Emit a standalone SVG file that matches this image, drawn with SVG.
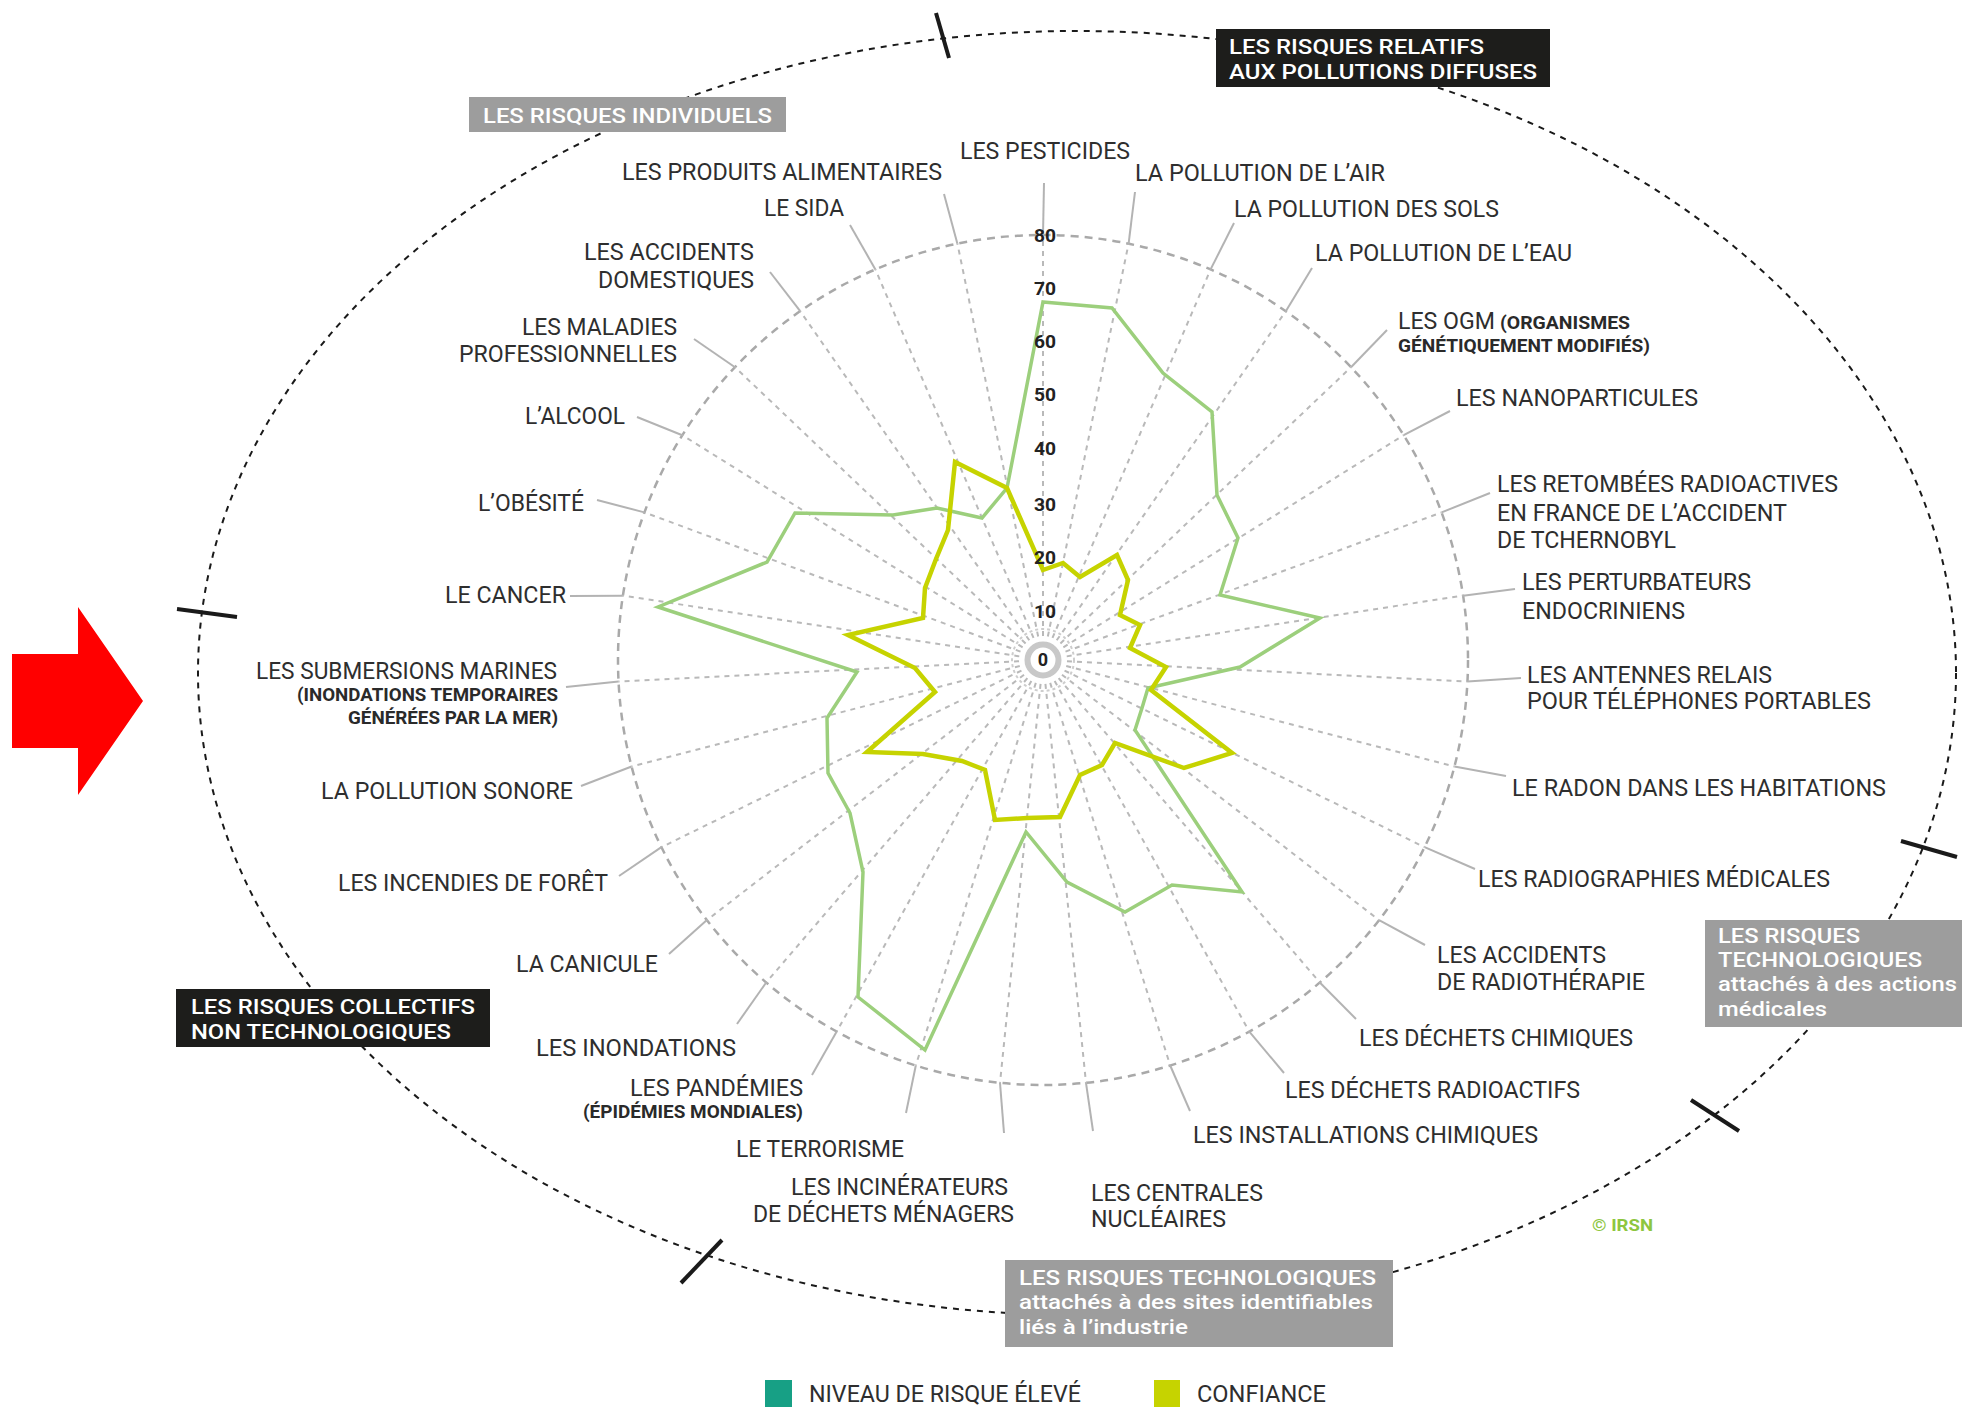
<svg xmlns="http://www.w3.org/2000/svg" width="1962" height="1407" viewBox="0 0 1962 1407">
<style>
text { font-family: Roboto, "Liberation Sans", Arial, sans-serif; }
.lbl { font-size: 24px; fill: #2e2e2e; }
.sm { font-size: 18px; font-weight: 700; fill: #2a2a2a; }
.bx { font-size: 21px; font-weight: 500; fill: #ffffff; }
.num { font-size: 18px; font-weight: 700; fill: #222; text-anchor: middle; }
.ell { fill: none; stroke: #1a1a1a; stroke-width: 2; stroke-dasharray: 6 6; }
.tick { stroke: #1a1a1a; stroke-width: 4; }
.rad { stroke: #b9b9b9; stroke-width: 2; stroke-dasharray: 5 5; }
.ring { fill: none; stroke: #a9a9a9; stroke-width: 2.5; stroke-dasharray: 8 6; }
.lead { stroke: #b3b3b3; stroke-width: 2; }
.gbox { fill: #9d9d9d; }
.kbox { fill: #1d1d1b; }
</style>
<rect width="1962" height="1407" fill="#ffffff"/>

<!-- red arrow -->
<polygon points="12,654 78,654 78,607 143,701 78,795 78,748 12,748" fill="#ff0000"/>

<!-- outer category ellipse -->
<g id="category-ellipse">
<ellipse class="ell" cx="1077" cy="673" rx="879" ry="642"/>
<line class="tick" x1="936" y1="13" x2="949" y2="58"/>
<line class="tick" x1="177" y1="609" x2="237" y2="617"/>
<line class="tick" x1="722" y1="1240" x2="681" y2="1283"/>
<line class="tick" x1="1691" y1="1100" x2="1739" y2="1131"/>
<line class="tick" x1="1901" y1="841" x2="1957" y2="857"/>
</g>

<!-- category boxes -->
<g id="cat-individuels">
<rect class="gbox" x="469" y="97" width="317" height="35"/>
<text class="bx" x="483" y="123" font-size="23" textLength="289" lengthAdjust="spacingAndGlyphs">LES RISQUES INDIVIDUELS</text>
</g>
<g id="cat-pollutions">
<rect class="kbox" x="1216" y="29" width="334" height="58"/>
<text class="bx" x="1229" y="54" textLength="255" lengthAdjust="spacingAndGlyphs">LES RISQUES RELATIFS</text>
<text class="bx" x="1229" y="79" textLength="308" lengthAdjust="spacingAndGlyphs">AUX POLLUTIONS DIFFUSES</text>
</g>
<g id="cat-collectifs">
<rect class="kbox" x="176" y="989" width="314" height="58"/>
<text class="bx" x="191" y="1014" textLength="284" lengthAdjust="spacingAndGlyphs">LES RISQUES COLLECTIFS</text>
<text class="bx" x="191" y="1039" textLength="260" lengthAdjust="spacingAndGlyphs">NON TECHNOLOGIQUES</text>
</g>
<g id="cat-medicales">
<rect class="gbox" x="1705" y="920" width="257" height="107"/>
<text class="bx" x="1718" y="943" textLength="142" lengthAdjust="spacingAndGlyphs">LES RISQUES</text>
<text class="bx" x="1718" y="967" textLength="204" lengthAdjust="spacingAndGlyphs">TECHNOLOGIQUES</text>
<text class="bx" x="1718" y="991" textLength="239" lengthAdjust="spacingAndGlyphs">attachés à des actions</text>
<text class="bx" x="1718" y="1016" textLength="109" lengthAdjust="spacingAndGlyphs">médicales</text>
</g>
<g id="cat-industrie">
<rect class="gbox" x="1005" y="1260" width="388" height="87"/>
<text class="bx" x="1019" y="1285" textLength="357" lengthAdjust="spacingAndGlyphs">LES RISQUES TECHNOLOGIQUES</text>
<text class="bx" x="1019" y="1309" textLength="354" lengthAdjust="spacingAndGlyphs">attachés à des sites identifiables</text>
<text class="bx" x="1019" y="1334" textLength="169" lengthAdjust="spacingAndGlyphs">liés à l’industrie</text>
</g>

<!-- radar grid -->
<g id="grid">
<circle class="ring" cx="1043" cy="660" r="425"/>
<circle cx="1043" cy="660" r="15.5" fill="none" stroke="#c8c8c8" stroke-width="6"/>
<circle cx="1043" cy="660" r="31" fill="none" stroke="#cdcdcd" stroke-width="2" stroke-dasharray="3 3"/>
<g transform="translate(1043,660)">
<line class="rad" y1="-24" y2="-425" stroke="#a5a5a5"/>
<line class="rad" y1="-24" y2="-425" transform="rotate(11.613)"/>
<line class="rad" y1="-24" y2="-425" transform="rotate(23.226)"/>
<line class="rad" y1="-24" y2="-425" transform="rotate(34.839)"/>
<line class="rad" y1="-24" y2="-425" transform="rotate(46.452)"/>
<line class="rad" y1="-24" y2="-425" transform="rotate(58.065)"/>
<line class="rad" y1="-24" y2="-425" transform="rotate(69.677)"/>
<line class="rad" y1="-24" y2="-425" transform="rotate(81.290)"/>
<line class="rad" y1="-24" y2="-425" transform="rotate(92.903)"/>
<line class="rad" y1="-24" y2="-425" transform="rotate(104.516)"/>
<line class="rad" y1="-24" y2="-425" transform="rotate(116.129)"/>
<line class="rad" y1="-24" y2="-425" transform="rotate(127.742)"/>
<line class="rad" y1="-24" y2="-425" transform="rotate(139.355)"/>
<line class="rad" y1="-24" y2="-425" transform="rotate(150.968)"/>
<line class="rad" y1="-24" y2="-425" transform="rotate(162.581)"/>
<line class="rad" y1="-24" y2="-425" transform="rotate(174.194)"/>
<line class="rad" y1="-24" y2="-425" transform="rotate(185.806)"/>
<line class="rad" y1="-24" y2="-425" transform="rotate(197.419)"/>
<line class="rad" y1="-24" y2="-425" transform="rotate(209.032)"/>
<line class="rad" y1="-24" y2="-425" transform="rotate(220.645)"/>
<line class="rad" y1="-24" y2="-425" transform="rotate(232.258)"/>
<line class="rad" y1="-24" y2="-425" transform="rotate(243.871)"/>
<line class="rad" y1="-24" y2="-425" transform="rotate(255.484)"/>
<line class="rad" y1="-24" y2="-425" transform="rotate(267.097)"/>
<line class="rad" y1="-24" y2="-425" transform="rotate(278.710)"/>
<line class="rad" y1="-24" y2="-425" transform="rotate(290.323)"/>
<line class="rad" y1="-24" y2="-425" transform="rotate(301.935)"/>
<line class="rad" y1="-24" y2="-425" transform="rotate(313.548)"/>
<line class="rad" y1="-24" y2="-425" transform="rotate(325.161)"/>
<line class="rad" y1="-24" y2="-425" transform="rotate(336.774)"/>
<line class="rad" y1="-24" y2="-425" transform="rotate(348.387)"/>
</g>
</g>

<!-- connectors: leader lines from ring to labels -->
<g id="connectors">
<line class="lead" x1="1043" y1="235" x2="1044" y2="183"/>
<line class="lead" x1="1128.6" y1="243.7" x2="1135" y2="192"/>
<line class="lead" x1="1210.6" y1="269.4" x2="1234" y2="223"/>
<line class="lead" x1="1285.8" y1="311.2" x2="1312" y2="268"/>
<line class="lead" x1="1351" y1="367.2" x2="1387" y2="330"/>
<line class="lead" x1="1403.7" y1="435.2" x2="1450" y2="411"/>
<line class="lead" x1="1441.6" y1="512.4" x2="1490" y2="493"/>
<line class="lead" x1="1463.1" y1="595.7" x2="1515" y2="589"/>
<line class="lead" x1="1467.4" y1="681.5" x2="1521" y2="678"/>
<line class="lead" x1="1454.4" y1="766.5" x2="1506" y2="776"/>
<line class="lead" x1="1424.6" y1="847.2" x2="1475" y2="869"/>
<line class="lead" x1="1379.1" y1="920.1" x2="1425" y2="945"/>
<line class="lead" x1="1319.8" y1="982.5" x2="1356" y2="1019"/>
<line class="lead" x1="1249.3" y1="1031.6" x2="1284" y2="1073"/>
<line class="lead" x1="1170.2" y1="1065.5" x2="1190" y2="1111"/>
<line class="lead" x1="1086" y1="1082.8" x2="1093" y2="1131"/>
<line class="lead" x1="1000" y1="1082.8" x2="1004" y2="1133"/>
<line class="lead" x1="915.8" y1="1065.5" x2="906" y2="1113"/>
<line class="lead" x1="836.7" y1="1031.6" x2="812" y2="1075"/>
<line class="lead" x1="766.2" y1="982.5" x2="737" y2="1024"/>
<line class="lead" x1="706.9" y1="920.1" x2="669" y2="954"/>
<line class="lead" x1="661.4" y1="847.2" x2="619" y2="876"/>
<line class="lead" x1="631.6" y1="766.5" x2="581" y2="786"/>
<line class="lead" x1="618.6" y1="681.5" x2="566" y2="687"/>
<line class="lead" x1="622.9" y1="595.7" x2="570" y2="596"/>
<line class="lead" x1="644.4" y1="512.4" x2="597" y2="500"/>
<line class="lead" x1="682.3" y1="435.2" x2="637" y2="417"/>
<line class="lead" x1="735" y1="367.2" x2="694" y2="339"/>
<line class="lead" x1="800.2" y1="311.2" x2="770" y2="272"/>
<line class="lead" x1="875.4" y1="269.4" x2="850" y2="225"/>
<line class="lead" x1="957.4" y1="243.7" x2="944" y2="194"/>
</g>

<!-- data series -->
<g id="series-risque">
<polygon points="1043,302 1112,308 1163,373 1212,412 1217,495 1238,538 1220,595 1320,618 1240,667 1148,688 1142,708 1135,730 1242,892 1172,885 1125,912 1067,882 1026,832 925,1050 858,997 863,872 850,813 828,773 827,718 857,672 658,607 767,562 795,513 893,515 937,508 982,518 1007,488" fill="none" stroke="#9ccf7c" stroke-width="3.5" stroke-linejoin="miter"/>
</g>
<g id="series-confiance">
<polygon points="1043,570 1063,563 1080,577 1117,555 1128,580 1120,615 1140,625 1130,648 1166,667 1151,690 1232,753 1184,768 1115,743 1102,765 1080,775 1060,817 1027,818 995,820 985,770 962,761 923,754 867,752 935,692 915,668 848,635 923,618 925,588 936,559 948,530 955,462 1007,488" fill="none" stroke="#c6d300" stroke-width="4.5" stroke-linejoin="miter"/>
</g>

<!-- scale numbers -->
<g id="scale">
<text class="num" x="1045" y="242" textLength="22" lengthAdjust="spacingAndGlyphs">80</text>
<text class="num" x="1045" y="295" textLength="22" lengthAdjust="spacingAndGlyphs">70</text>
<text class="num" x="1045" y="348" textLength="22" lengthAdjust="spacingAndGlyphs">60</text>
<text class="num" x="1045" y="401" textLength="22" lengthAdjust="spacingAndGlyphs">50</text>
<text class="num" x="1045" y="455" textLength="22" lengthAdjust="spacingAndGlyphs">40</text>
<text class="num" x="1045" y="511" textLength="22" lengthAdjust="spacingAndGlyphs">30</text>
<text class="num" x="1045" y="564" textLength="22" lengthAdjust="spacingAndGlyphs">20</text>
<text class="num" x="1045" y="618" textLength="22" lengthAdjust="spacingAndGlyphs">10</text>
<text class="num" x="1043" y="666">0</text>
</g>

<!-- axis labels -->
<g id="lbl-pesticides"><text class="lbl" x="960" y="159" textLength="170" lengthAdjust="spacingAndGlyphs">LES PESTICIDES</text></g>
<g id="lbl-air"><text class="lbl" x="1135" y="181" textLength="250" lengthAdjust="spacingAndGlyphs">LA POLLUTION DE L’AIR</text></g>
<g id="lbl-sols"><text class="lbl" x="1234" y="217" textLength="265" lengthAdjust="spacingAndGlyphs">LA POLLUTION DES SOLS</text></g>
<g id="lbl-eau"><text class="lbl" x="1315" y="261" textLength="257" lengthAdjust="spacingAndGlyphs">LA POLLUTION DE L’EAU</text></g>
<g id="lbl-ogm">
<text class="lbl" x="1398" y="329" textLength="97" lengthAdjust="spacingAndGlyphs">LES OGM</text>
<text class="sm" x="1500" y="329" textLength="130" lengthAdjust="spacingAndGlyphs">(ORGANISMES</text>
<text class="sm" x="1398" y="352" textLength="252" lengthAdjust="spacingAndGlyphs">GÉNÉTIQUEMENT MODIFIÉS)</text>
</g>
<g id="lbl-nano"><text class="lbl" x="1456" y="406" textLength="242" lengthAdjust="spacingAndGlyphs">LES NANOPARTICULES</text></g>
<g id="lbl-retombees">
<text class="lbl" x="1497" y="492" textLength="341" lengthAdjust="spacingAndGlyphs">LES RETOMBÉES RADIOACTIVES</text>
<text class="lbl" x="1497" y="521" textLength="290" lengthAdjust="spacingAndGlyphs">EN FRANCE DE L’ACCIDENT</text>
<text class="lbl" x="1497" y="548" textLength="179" lengthAdjust="spacingAndGlyphs">DE TCHERNOBYL</text>
</g>
<g id="lbl-perturbateurs">
<text class="lbl" x="1522" y="590" textLength="229" lengthAdjust="spacingAndGlyphs">LES PERTURBATEURS</text>
<text class="lbl" x="1522" y="619" textLength="163" lengthAdjust="spacingAndGlyphs">ENDOCRINIENS</text>
</g>
<g id="lbl-antennes">
<text class="lbl" x="1527" y="683" textLength="245" lengthAdjust="spacingAndGlyphs">LES ANTENNES RELAIS</text>
<text class="lbl" x="1527" y="709" textLength="344" lengthAdjust="spacingAndGlyphs">POUR TÉLÉPHONES PORTABLES</text>
</g>
<g id="lbl-radon"><text class="lbl" x="1512" y="796" textLength="374" lengthAdjust="spacingAndGlyphs">LE RADON DANS LES HABITATIONS</text></g>
<g id="lbl-radiographies"><text class="lbl" x="1478" y="887" textLength="352" lengthAdjust="spacingAndGlyphs">LES RADIOGRAPHIES MÉDICALES</text></g>
<g id="lbl-radiotherapie">
<text class="lbl" x="1437" y="963" textLength="169" lengthAdjust="spacingAndGlyphs">LES ACCIDENTS</text>
<text class="lbl" x="1437" y="990" textLength="208" lengthAdjust="spacingAndGlyphs">DE RADIOTHÉRAPIE</text>
</g>
<g id="lbl-dechets-chimiques"><text class="lbl" x="1359" y="1046" textLength="274" lengthAdjust="spacingAndGlyphs">LES DÉCHETS CHIMIQUES</text></g>
<g id="lbl-dechets-radioactifs"><text class="lbl" x="1285" y="1098" textLength="295" lengthAdjust="spacingAndGlyphs">LES DÉCHETS RADIOACTIFS</text></g>
<g id="lbl-installations"><text class="lbl" x="1193" y="1143" textLength="345" lengthAdjust="spacingAndGlyphs">LES INSTALLATIONS CHIMIQUES</text></g>
<g id="lbl-centrales">
<text class="lbl" x="1091" y="1201" textLength="172" lengthAdjust="spacingAndGlyphs">LES CENTRALES</text>
<text class="lbl" x="1091" y="1227" textLength="135" lengthAdjust="spacingAndGlyphs">NUCLÉAIRES</text>
</g>
<g id="lbl-incinerateurs">
<text class="lbl" x="791" y="1195" textLength="217" lengthAdjust="spacingAndGlyphs">LES INCINÉRATEURS</text>
<text class="lbl" x="753" y="1222" textLength="261" lengthAdjust="spacingAndGlyphs">DE DÉCHETS MÉNAGERS</text>
</g>
<g id="lbl-terrorisme"><text class="lbl" x="736" y="1157" textLength="168" lengthAdjust="spacingAndGlyphs">LE TERRORISME</text></g>
<g id="lbl-pandemies">
<text class="lbl" x="630" y="1096" textLength="173" lengthAdjust="spacingAndGlyphs">LES PANDÉMIES</text>
<text class="sm" x="583" y="1118" textLength="220" lengthAdjust="spacingAndGlyphs">(ÉPIDÉMIES MONDIALES)</text>
</g>
<g id="lbl-inondations"><text class="lbl" x="536" y="1056" textLength="200" lengthAdjust="spacingAndGlyphs">LES INONDATIONS</text></g>
<g id="lbl-canicule"><text class="lbl" x="516" y="972" textLength="142" lengthAdjust="spacingAndGlyphs">LA CANICULE</text></g>
<g id="lbl-incendies"><text class="lbl" x="338" y="891" textLength="270" lengthAdjust="spacingAndGlyphs">LES INCENDIES DE FORÊT</text></g>
<g id="lbl-sonore"><text class="lbl" x="321" y="799" textLength="252" lengthAdjust="spacingAndGlyphs">LA POLLUTION SONORE</text></g>
<g id="lbl-submersions">
<text class="lbl" x="256" y="679" textLength="301" lengthAdjust="spacingAndGlyphs">LES SUBMERSIONS MARINES</text>
<text class="sm" x="297" y="701" textLength="261" lengthAdjust="spacingAndGlyphs">(INONDATIONS TEMPORAIRES</text>
<text class="sm" x="348" y="724" textLength="210" lengthAdjust="spacingAndGlyphs">GÉNÉRÉES PAR LA MER)</text>
</g>
<g id="lbl-cancer"><text class="lbl" x="445" y="603" textLength="121" lengthAdjust="spacingAndGlyphs">LE CANCER</text></g>
<g id="lbl-obesite"><text class="lbl" x="478" y="511" textLength="106" lengthAdjust="spacingAndGlyphs">L’OBÉSITÉ</text></g>
<g id="lbl-alcool"><text class="lbl" x="525" y="424" textLength="100" lengthAdjust="spacingAndGlyphs">L’ALCOOL</text></g>
<g id="lbl-maladies">
<text class="lbl" x="522" y="335" textLength="155" lengthAdjust="spacingAndGlyphs">LES MALADIES</text>
<text class="lbl" x="459" y="362" textLength="218" lengthAdjust="spacingAndGlyphs">PROFESSIONNELLES</text>
</g>
<g id="lbl-domestiques">
<text class="lbl" x="584" y="260" textLength="170" lengthAdjust="spacingAndGlyphs">LES ACCIDENTS</text>
<text class="lbl" x="598" y="288" textLength="156" lengthAdjust="spacingAndGlyphs">DOMESTIQUES</text>
</g>
<g id="lbl-sida"><text class="lbl" x="764" y="216" textLength="80" lengthAdjust="spacingAndGlyphs">LE SIDA</text></g>
<g id="lbl-alimentaires"><text class="lbl" x="622" y="180" textLength="320" lengthAdjust="spacingAndGlyphs">LES PRODUITS ALIMENTAIRES</text></g>

<!-- credit -->
<text x="1592" y="1231" font-size="17" font-weight="700" fill="#8dc63f" textLength="61" lengthAdjust="spacingAndGlyphs">© IRSN</text>

<!-- legend -->
<g id="legend">
<rect x="765" y="1380" width="27" height="27" fill="#17a085"/>
<text class="lbl" x="809" y="1402" font-size="22" textLength="272" lengthAdjust="spacingAndGlyphs">NIVEAU DE RISQUE ÉLEVÉ</text>
<rect x="1154" y="1380" width="26" height="27" fill="#c6d300"/>
<text class="lbl" x="1197" y="1402" font-size="22" textLength="129" lengthAdjust="spacingAndGlyphs">CONFIANCE</text>
</g>
</svg>
